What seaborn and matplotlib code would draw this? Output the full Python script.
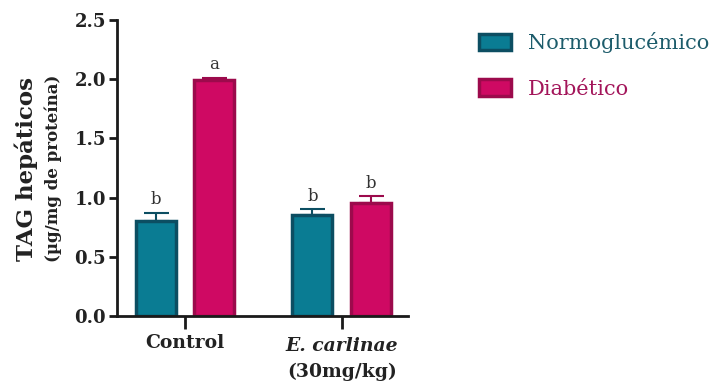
import pandas as pd
import seaborn as sns
import matplotlib.pyplot as plt
from matplotlib.patches import Patch

# data
groups = ['Control', 'E. carlinae']
conditions = ['Normoglucémico', 'Diabético']
means_normo = [0.80, 0.85]
means_diab = [1.99, 0.95]
sem_normo = [0.07, 0.05]
sem_diab = [0.02, 0.06]
letters_normo = ['b', 'b']
letters_diab = ['a', 'b']

fill_colors = ['#0a7c93', '#cf0963']
edge_colors = ['#0c4e62', '#9c0a4c']
text_colors = ['#1d5c6b', '#a3155a']

df = pd.DataFrame({
    'group': groups * 2,
    'condition': [conditions[0]] * 2 + [conditions[1]] * 2,
    'value': means_normo + means_diab,
})

sns.set_style('ticks')
plt.rcParams['font.family'] = ['DejaVu Serif']

fig = plt.figure(figsize=(7.23, 3.83), dpi=100)
ax = fig.add_axes([0.162, 0.175, 0.402, 0.773])

sns.barplot(data=df, x='group', y='value', hue='condition', hue_order=conditions,
            order=groups, palette=fill_colors, saturation=1, width=0.75, gap=0.32,
            errorbar=None, legend=False, ax=ax, linewidth=2.5)

# edge colours and error bars per hue container
sems = [sem_normo, sem_diab]
letters = [letters_normo, letters_diab]
bar_containers = list(ax.containers)
for k, cont in enumerate(bar_containers):
    for j, bar in enumerate(cont.patches):
        bar.set_edgecolor(edge_colors[k])
        cx = bar.get_x() + bar.get_width() / 2
        h = bar.get_height()
        ax.errorbar(cx, h, yerr=[[0], [sems[k][j]]], fmt='none',
                    ecolor=edge_colors[k], elinewidth=1.5, capsize=9, capthick=1.5)
        ax.text(cx, h + sems[k][j] + 0.04, letters[k][j], ha='center', va='bottom',
                fontsize=12, color='#333333')

ax.set_ylim(0, 2.5)
ax.set_xlim(-0.433, 1.42)
ax.set_yticks([0, 0.5, 1.0, 1.5, 2.0, 2.5])
ax.set_yticklabels(['0.0', '0.5', '1.0', '1.5', '2.0', '2.5'], fontsize=13,
                   fontweight='bold', color='#222222')
ax.set_xticks([0, 1])
ax.set_xticklabels(['Control', ''], fontsize=13.5, fontweight='bold', color='#222222')
ax.text(1, -0.25, 'E. carlinae', ha='center', va='center', fontsize=13.5,
        fontweight='bold', fontstyle='italic', color='#222222', clip_on=False)
ax.text(1, -0.47, '(30mg/kg)', ha='center', va='center', fontsize=13.5,
        fontweight='bold', color='#222222', clip_on=False)
ax.set_xlabel('')
ax.set_ylabel('')

for side in ['top', 'right']:
    ax.spines[side].set_visible(False)
for side in ['left', 'bottom']:
    ax.spines[side].set_linewidth(2)
    ax.spines[side].set_color('#1a1a1a')
ax.tick_params(axis='y', length=6, width=2, color='#1a1a1a', pad=2)
ax.tick_params(axis='x', length=9, width=2, color='#1a1a1a', pad=4)

fig.text(0.036, 0.56, 'TAG hepáticos', rotation=90, ha='center', va='center',
         fontsize=16.5, fontweight='bold', color='#222222')
fig.text(0.073, 0.56, '(µg/mg de proteína)', rotation=90, ha='center', va='center',
         fontsize=12, fontweight='bold', color='#222222')

handles = [Patch(facecolor=fill_colors[i], edgecolor=edge_colors[i], linewidth=2.5)
           for i in range(2)]
leg = fig.legend(handles, conditions, loc='upper left', bbox_to_anchor=(0.637, 0.965),
                 frameon=False, fontsize=15, handlelength=1.5, handleheight=0.85,
                 handletextpad=0.85, labelspacing=1.25)
for t, c in zip(leg.get_texts(), text_colors):
    t.set_color(c)

fig.savefig('out.png', dpi=100)
